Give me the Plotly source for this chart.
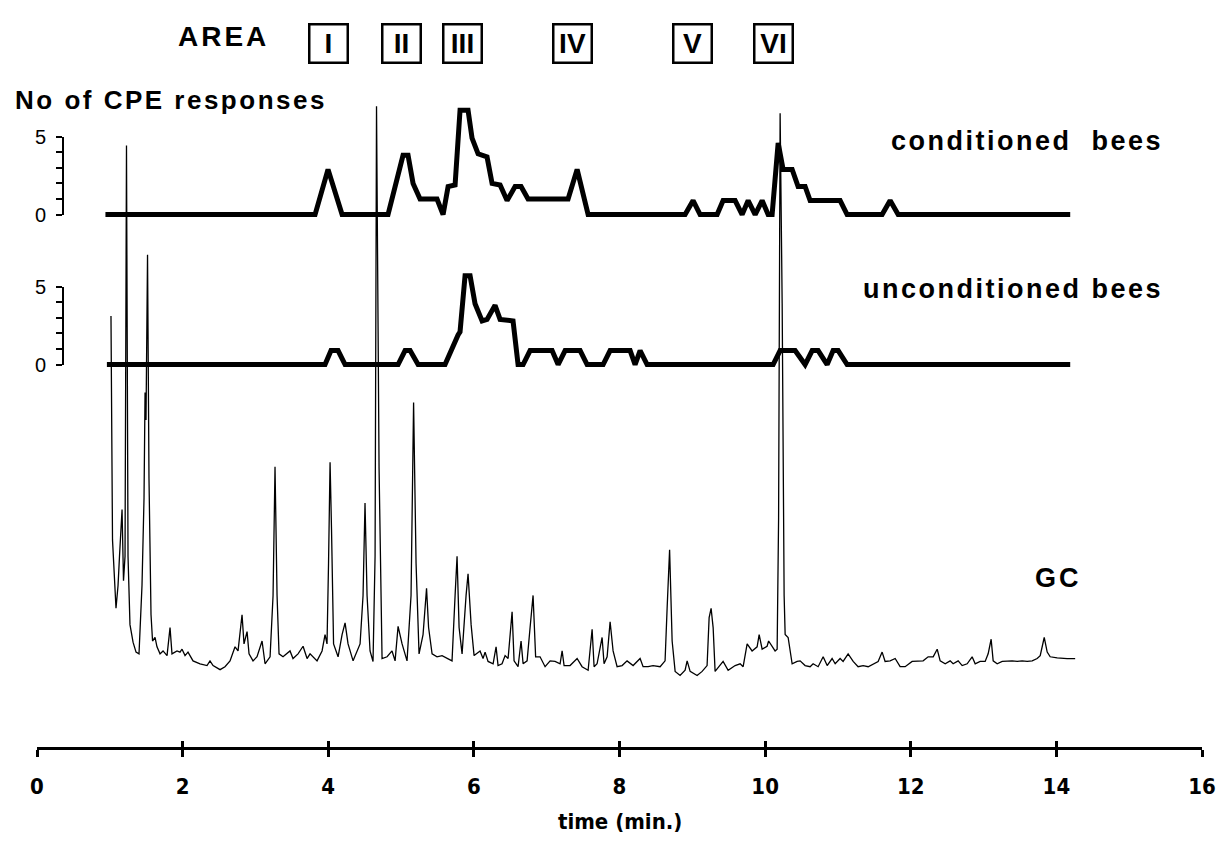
import plotly.graph_objects as go

# ---------------- data ----------------
gc_time = [
    1.016, 1.037, 1.085, 1.113, 1.133, 1.168, 1.188, 1.209, 1.229, 1.250,
    1.277, 1.319, 1.360, 1.401, 1.442, 1.470, 1.484, 1.497, 1.518, 1.538,
    1.566, 1.587, 1.621, 1.648, 1.690, 1.731, 1.786, 1.827, 1.854, 1.923,
    1.964, 1.992, 2.033, 2.074, 2.143, 2.239, 2.335, 2.376, 2.418, 2.514,
    2.582, 2.651, 2.720, 2.761, 2.816, 2.843, 2.885, 2.912, 2.967, 3.022,
    3.091, 3.132, 3.201, 3.242, 3.269, 3.297, 3.324, 3.379, 3.475, 3.516,
    3.585, 3.654, 3.709, 3.750, 3.846, 3.915, 3.956, 3.983, 4.004, 4.025,
    4.045, 4.073, 4.135, 4.190, 4.231, 4.272, 4.341, 4.437, 4.478, 4.505,
    4.533, 4.574, 4.615, 4.643, 4.663, 4.698, 4.739, 4.808, 4.876, 4.918,
    4.959, 5.014, 5.082, 5.137, 5.172, 5.206, 5.247, 5.302, 5.350, 5.378,
    5.426, 5.494, 5.563, 5.632, 5.700, 5.742, 5.769, 5.797, 5.838, 5.893,
    5.920, 5.962, 6.003, 6.085, 6.126, 6.154, 6.195, 6.264, 6.305, 6.332,
    6.387, 6.429, 6.470, 6.525, 6.552, 6.607, 6.648, 6.676, 6.731, 6.772,
    6.813, 6.848, 6.909, 6.978, 7.047, 7.115, 7.184, 7.212, 7.239, 7.321,
    7.418, 7.486, 7.569, 7.624, 7.651, 7.692, 7.761, 7.788, 7.830, 7.871,
    7.912, 7.967, 8.036, 8.104, 8.187, 8.283, 8.324, 8.393, 8.461, 8.558,
    8.626, 8.654, 8.688, 8.723, 8.764, 8.832, 8.901, 8.929, 8.970, 9.066,
    9.135, 9.203, 9.231, 9.258, 9.286, 9.313, 9.382, 9.423, 9.492, 9.588,
    9.657, 9.698, 9.753, 9.821, 9.890, 9.918, 9.959, 10.027, 10.048, 10.096,
    10.137, 10.165, 10.185, 10.206, 10.234, 10.261, 10.275, 10.316, 10.371, 10.440,
    10.481, 10.549, 10.618, 10.659, 10.728, 10.797, 10.852, 10.920, 10.962, 11.030,
    11.071, 11.140, 11.209, 11.277, 11.346, 11.415, 11.484, 11.552, 11.607, 11.648,
    11.717, 11.786, 11.854, 11.923, 12.019, 12.088, 12.170, 12.239, 12.308, 12.363,
    12.404, 12.473, 12.541, 12.582, 12.651, 12.706, 12.775, 12.843, 12.885, 12.953,
    13.022, 13.063, 13.104, 13.132, 13.187, 13.256, 13.324, 13.393, 13.462, 13.530,
    13.599, 13.668, 13.736, 13.778, 13.833, 13.874, 13.915, 14.011, 14.148, 14.258,
]
gc_signal = [
    62.8, 24.5, 12.8, 16.7, 21.7, 29.7, 17.5, 21.7, 92.0, 21.7,
    10.0, 7.0, 5.3, 5.0, 16.7, 31.7, 49.7, 45.0, 73.3, 35.0,
    11.7, 7.2, 7.8, 6.2, 5.0, 5.5, 4.7, 9.5, 5.0, 5.5,
    5.3, 5.8, 4.7, 5.3, 3.8, 3.3, 3.0, 3.8, 3.0, 2.3,
    2.8, 3.8, 6.2, 5.5, 11.7, 6.7, 8.8, 5.0, 3.8, 4.5,
    7.2, 3.3, 4.5, 15.0, 37.0, 15.0, 5.0, 4.5, 5.5, 4.2,
    5.0, 6.3, 4.2, 5.0, 3.8, 5.5, 8.3, 6.7, 20.5, 37.8,
    26.2, 6.7, 4.5, 8.3, 10.3, 6.7, 3.8, 6.7, 15.0, 30.8,
    15.0, 5.5, 3.7, 21.7, 98.7, 36.7, 4.2, 4.5, 5.5, 3.8,
    9.7, 6.7, 3.8, 15.0, 48.0, 20.5, 5.0, 8.3, 16.2, 9.5,
    5.0, 4.5, 4.7, 4.2, 3.8, 15.0, 21.7, 9.5, 5.0, 15.0,
    18.7, 10.0, 4.7, 5.5, 4.2, 5.3, 3.7, 3.3, 6.2, 3.0,
    3.3, 4.7, 4.2, 12.2, 3.8, 2.8, 7.2, 3.3, 3.8, 9.5,
    15.0, 4.5, 4.5, 2.8, 3.8, 3.7, 3.3, 5.5, 3.0, 3.0,
    4.2, 2.8, 2.2, 9.2, 2.8, 3.3, 7.8, 3.3, 4.5, 10.5,
    5.5, 2.8, 3.0, 3.8, 3.0, 4.2, 2.8, 2.8, 3.0, 2.8,
    3.8, 12.8, 22.8, 7.2, 2.0, 1.3, 2.2, 3.8, 2.0, 1.3,
    2.0, 3.0, 11.2, 12.8, 9.5, 2.0, 3.0, 3.7, 2.2, 3.0,
    3.3, 2.8, 6.7, 5.5, 6.2, 8.3, 5.8, 6.3, 7.2, 6.2,
    5.5, 5.8, 28.3, 97.5, 65.0, 15.0, 8.3, 7.8, 3.3, 3.7,
    3.8, 3.0, 2.8, 3.3, 2.8, 4.5, 3.0, 4.2, 3.3, 4.2,
    3.7, 5.0, 3.7, 2.8, 3.0, 2.8, 3.3, 3.7, 5.3, 3.7,
    3.8, 4.2, 2.8, 2.8, 3.7, 3.7, 3.8, 4.5, 4.5, 5.8,
    3.8, 3.3, 3.8, 3.3, 3.8, 3.0, 3.3, 4.5, 3.3, 3.7,
    3.7, 5.0, 7.5, 3.8, 3.3, 3.7, 3.8, 3.8, 3.7, 3.8,
    3.7, 3.8, 4.2, 4.7, 7.8, 5.3, 4.5, 4.3, 4.2, 4.2,
]

cond_time = [0.94, 3.819, 3.997, 4.190, 4.821, 5.027, 5.096, 5.165, 5.261, 5.494,
             5.577, 5.646, 5.742, 5.810, 5.920, 5.975, 6.058, 6.181, 6.250, 6.360,
             6.456, 6.566, 6.648, 6.744, 7.294, 7.418, 7.569, 8.901, 9.011, 9.107,
             9.341, 9.423, 9.588, 9.684, 9.767, 9.863, 9.959, 10.041, 10.096, 10.179,
             10.247, 10.371, 10.453, 10.549, 10.618, 11.030, 11.126, 11.607, 11.717, 11.827,
             14.19]
cond_resp = [0, 0, 2.9, 0, 0, 3.8, 3.8, 2.0, 1.0, 1.0,
             0, 1.8, 1.9, 6.7, 6.7, 4.9, 3.9, 3.7, 2.0, 1.9,
             0.9, 1.8, 1.8, 1.0, 1.0, 2.9, 0, 0, 0.9, 0,
             0, 0.9, 0.9, 0, 0.9, 0, 0.9, 0, 0, 4.6,
             2.9, 2.9, 1.8, 1.8, 0.9, 0.9, 0, 0, 0.9, 0,
             0]

uncond_time = [0.96, 3.956, 4.038, 4.135, 4.231, 4.959, 5.055, 5.124, 5.234, 5.604,
               5.783, 5.810, 5.879, 5.948, 6.016, 6.113, 6.181, 6.291, 6.360, 6.538,
               6.607, 6.676, 6.772, 7.074, 7.157, 7.253, 7.459, 7.555, 7.775, 7.871,
               8.146, 8.214, 8.283, 8.379, 10.110, 10.206, 10.412, 10.549, 10.646, 10.728,
               10.852, 10.934, 11.003, 11.126, 14.19]
uncond_resp = [0, 0, 0.9, 0.9, 0, 0, 0.9, 0.9, 0, 0,
               1.9, 2.1, 5.7, 5.7, 3.9, 2.8, 2.9, 3.8, 2.9, 2.8,
               0, 0, 0.9, 0.9, 0, 0.9, 0.9, 0, 0, 0.9,
               0.9, 0, 0.9, 0, 0, 0.9, 0.9, 0, 0.9, 0.9,
               0, 0.9, 0.9, 0, 0]

area_labels = ["I", "II", "III", "IV", "V", "VI"]
area_time = [4.0, 5.0, 5.85, 7.36, 9.0, 10.11]

x_ticks = [0, 2, 4, 6, 8, 10, 12, 14, 16]
resp_ticks = [0, 1, 2, 3, 4, 5]
resp_ticktext = ["0", "", "", "", "", "5"]

# ---------------- layout helpers ----------------
W, H = 1220, 847
ML, MR = 37, 18
PW = W - ML - MR


def py(p):
    return 1 - p / H


def px_(p):
    return (p - ML) / PW


BOLD = "Liberation Sans, Arial, Helvetica, sans-serif"
NARROW = "Liberation Sans Narrow, Arial Narrow, DejaVu Sans Condensed, sans-serif"

COND0, UNC0, GC0 = 209, 363, 690   # pixel rows of the zero lines
UNIT = 16                         # px per response
GCU = 6                           # px per GC unit
XAXIS_Y = 757

fig = go.Figure()
fig.add_trace(go.Scatter(x=gc_time, y=gc_signal, mode="lines",
                         line=dict(color="black", width=1.3), xaxis="x", yaxis="y",
                         hoverinfo="skip"))
fig.add_trace(go.Scatter(x=cond_time, y=cond_resp, mode="lines",
                         line=dict(color="black", width=5), xaxis="x", yaxis="y2"))
fig.add_trace(go.Scatter(x=uncond_time, y=uncond_resp, mode="lines",
                         line=dict(color="black", width=5), xaxis="x", yaxis="y3"))
fig.add_trace(go.Scatter(x=[], y=[], xaxis="x", yaxis="y4"))
fig.add_trace(go.Scatter(x=[], y=[], xaxis="x", yaxis="y5"))
fig.add_trace(go.Scatter(x=[], y=[], xaxis="x2", yaxis="y"))

bracket = dict(range=[0, 5], anchor="free", position=px_(63),
               showline=True, linecolor="black", linewidth=2,
               ticks="outside", ticklen=6, tickwidth=2, tickcolor="black",
               tickvals=resp_ticks, ticktext=resp_ticktext,
               tickfont=dict(family=BOLD, size=20, color="black"),
               ticklabelstandoff=6, showgrid=False, zeroline=False)

fig.update_layout(
    width=W, height=H,
    margin=dict(l=ML, r=MR, t=0, b=0),
    paper_bgcolor="white", plot_bgcolor="rgba(0,0,0,0)", showlegend=False,
    xaxis=dict(domain=[0, 1], range=[0, 16], anchor="free", position=py(XAXIS_Y),
               showline=True, linecolor="black", linewidth=3,
               ticks="outside", ticklen=7, tickwidth=3, tickcolor="black",
               tickvals=x_ticks,
               tickfont=dict(family=NARROW, size=22, color="black", weight="bold"),
               ticklabelstandoff=10, showgrid=False, zeroline=False),
    xaxis2=dict(overlaying="x", range=[0, 16], anchor="free", position=py(XAXIS_Y),
                ticks="inside", ticklen=7, tickwidth=3, tickcolor="black",
                tickvals=x_ticks, showticklabels=False, showline=False,
                showgrid=False, zeroline=False),
    yaxis=dict(domain=[0, 1], range=[(GC0 - H) / GCU, GC0 / GCU], visible=False),
    yaxis2=dict(overlaying="y", range=[(COND0 - H) / UNIT, COND0 / UNIT], visible=False),
    yaxis3=dict(overlaying="y", range=[(UNC0 - H) / UNIT, UNC0 / UNIT], visible=False),
    yaxis4=dict(domain=[py(COND0), py(COND0 - 5 * UNIT)], **bracket),
    yaxis5=dict(domain=[py(UNC0), py(UNC0 - 5 * UNIT)], **bracket),
)


def spaced(txt, sp):
    return "<b><span style='letter-spacing:%spx'>%s</span></b>" % (sp, txt)


def note(x, y, text, size, family=BOLD, xref="paper", xanchor="center", **kw):
    d = dict(x=x, xref=xref, y=py(y), yref="paper", text=text, showarrow=False,
             xanchor=xanchor, yanchor="middle",
             font=dict(family=family, size=size, color="black"))
    d.update(kw)
    return d


ann = [note(px_(223), 26, spaced("AREA", 3), 28)]
for lab, t in zip(area_labels, area_time):
    ann.append(note(t, 33, "<b>%s</b>" % lab, 28, xref="x",
                    width=34, height=34, borderpad=1,
                    bordercolor="black", borderwidth=2.5))
ann.append(note(px_(13), 91, spaced("No of CPE responses", 2.5), 26, xanchor="left"))
ann.append(note(px_(1165), 133, spaced("conditioned&nbsp;&nbsp;bees", 2.5), 27, xanchor="right"))
ann.append(note(px_(1165), 285, spaced("unconditioned&nbsp;bees", 2.5), 27, xanchor="right"))
ann.append(note(px_(1058), 582, spaced("GC", 3), 27))
ann.append(note(8, 832, "<b>time (min.)</b>", 22, family=NARROW, xref="x"))
fig.update_layout(annotations=ann)

fig.write_html("out.html", config={"displayModeBar": False, "staticPlot": True},
               post_script="document.body.style.margin='0px';")
